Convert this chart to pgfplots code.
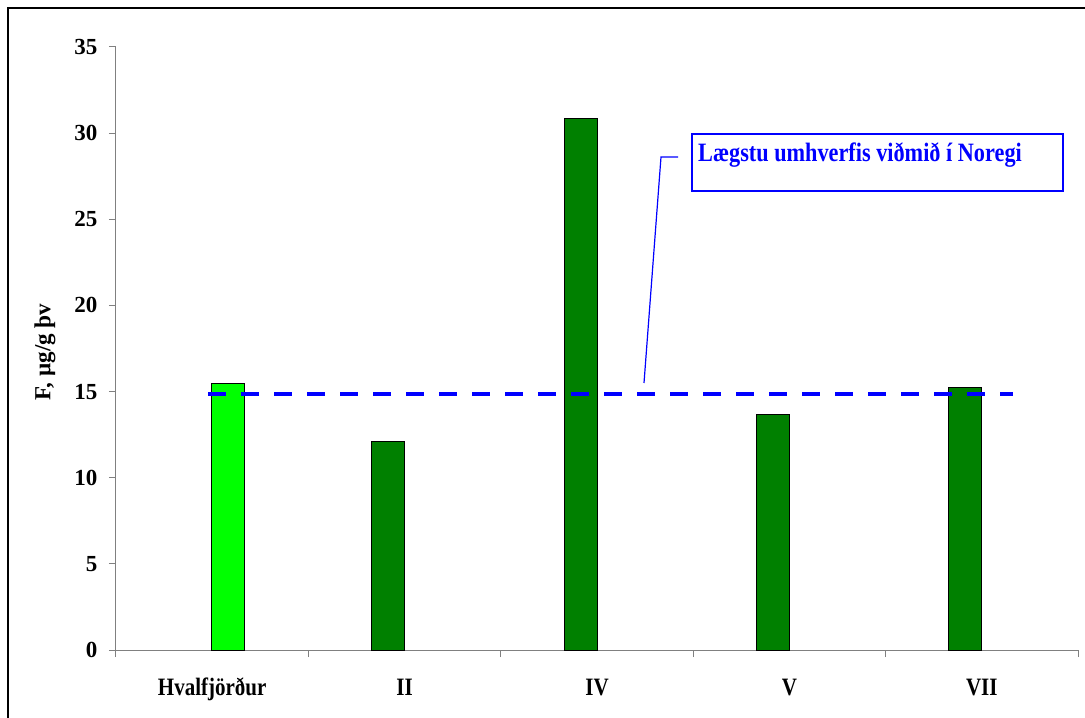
\documentclass[border=0pt]{standalone}
\usepackage{fontspec}
\setmainfont{Liberation Serif}
\newfontfamily\cond{Liberation Serif}[FakeStretch=0.84]
\usepackage{pgfplots}
\pgfplotsset{compat=1.18}
\definecolor{lgreen}{HTML}{00FF00}
\definecolor{dgreen}{HTML}{008000}
\definecolor{axgray}{HTML}{808080}
\begin{document}
\begin{tikzpicture}[font=\fontsize{23bp}{27bp}\selectfont\bfseries]
\useasboundingbox (-116bp,-68bp) rectangle (969bp,650bp);
\draw[black, line width=1.5bp] (-108bp,-120bp) -- (-108bp,642bp) -- (1000bp,642bp);
\begin{axis}[at={(0,0)}, anchor=south west, scale only axis,
 width=962bp, height=603bp,
 xmin=-0.5, xmax=4.5, ymin=0, ymax=35,
 axis x line*=bottom, axis y line*=left,
 axis line style={axgray, line width=1bp, -},
 ytick={0,5,...,35},
 xtick={-0.5,0.5,...,4.5},
 x tick label as interval,
 xticklabels={Hvalfjörður,II,IV,V,VII},
 tick style={axgray, line width=1bp},
 tick align=outside, major tick length=7bp,
 /pgf/number format/assume math mode=true,
 every tick label/.append style={font=\fontsize{23bp}{27bp}\selectfont\bfseries},
 yticklabel style={xshift=-8bp},
 xticklabel style={font=\cond\fontsize{25bp}{29bp}\selectfont\bfseries, text height=17bp, text depth=5bp, yshift=-18bp},
 every axis y label/.style={at={(axis description cs:-0.0738,0.494)}, rotate=90, anchor=center},
 ylabel={F, µg/g þv},
 bar width=33bp,
 clip=false,
]
\addplot[ybar, bar shift=-16.5bp, fill=dgreen, draw=black, line width=1bp] coordinates {(1,12.11) (2,30.87) (3,13.68) (4,15.24)};
\addplot[ybar, bar shift=16bp, fill=lgreen, draw=black, line width=1bp] coordinates {(0,15.44)};
\addplot[blue, line width=4bp, dash pattern=on 18bp off 15bp] coordinates {(-0.02,14.84) (4.16,14.84)};
\end{axis}
\draw[blue, line width=1.5bp] (576bp,459bp) rectangle (947bp,516bp);
\node[anchor=base west, text=blue, inner sep=0, font=\cond\fontsize{26.5bp}{30bp}\selectfont\bfseries] at (582bp,488bp) {Lægstu umhverfis viðmið í Noregi};
\draw[blue, line width=1.2bp] (562bp,493bp) -- (545bp,493bp) -- (528bp,267bp);
\end{tikzpicture}
\end{document}
